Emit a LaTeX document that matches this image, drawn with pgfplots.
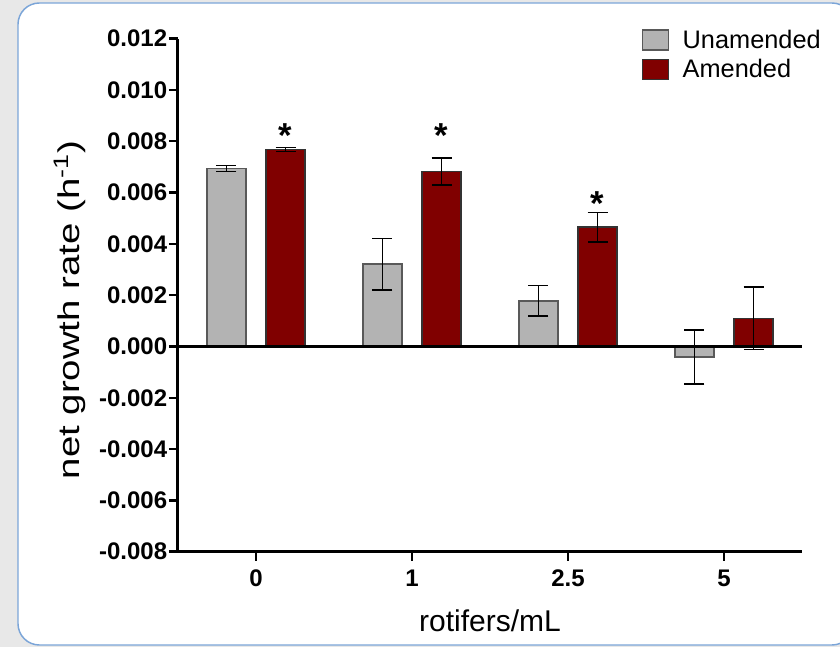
\documentclass[border=0pt]{standalone}
\usepackage{fontspec}
\setmainfont{Liberation Sans}
\usepackage{graphicx}
\usepackage{pgfplots}
\pgfplotsset{compat=1.18}
\definecolor{barred}{HTML}{800000}
\definecolor{bargray}{HTML}{B3B3B3}
\definecolor{panelblue}{HTML}{7BA5D8}
\definecolor{bggray}{HTML}{E8E8E8}
\begin{document}
\begin{tikzpicture}
\useasboundingbox (0pt,0pt) rectangle (630pt,485.25pt);
\fill[bggray] (0pt,0pt) rectangle (630pt,485.25pt);
\begin{scope}
\clip (0pt,0pt) rectangle (630pt,485.25pt);
\filldraw[fill=white, draw=panelblue, line width=1.1pt, rounded corners=16pt] (13.5pt,1.5pt) rectangle (640pt,483pt);
\end{scope}
\begin{axis}[
  at={(133.5pt,71.5pt)}, anchor=south west,
  scale only axis, width=468pt, height=384.75pt,
  xmin=-0.5, xmax=3.5, ymin=-0.008, ymax=0.012,
  axis x line=bottom, axis y line=left,
  axis line style={line width=2.25pt, -},
  xtick={0,1,2,3}, xticklabels={0,1,2.5,5},
  ytick={-0.008,-0.006,-0.004,-0.002,0,0.002,0.004,0.006,0.008,0.010,0.012},
  yticklabels={-0.008,-0.006,-0.004,-0.002,0.000,0.002,0.004,0.006,0.008,0.010,0.012},
  scaled y ticks=false,
  tick align=outside, major tick length=6.75pt,
  tick style={line width=1.8pt, black},
  ticklabel style={font=\fontsize{18}{20}\selectfont\bfseries},
  yticklabel style={inner sep=1.2pt},
  xticklabel style={inner sep=1.5pt, yshift=-5pt},
  clip=false,
  legend style={at={(0.743,1.023)}, anchor=north west, draw=none, fill=none,
    font=\fontsize{19}{21}\selectfont, inner sep=0pt, row sep=3pt,
    /tikz/every odd column/.append style={column sep=8pt}},
  legend cell align=left,
  legend image code/.code={\draw[#1] (0pt,-7.5pt) rectangle (19.5pt,7.5pt);},
  error bars/y dir=both, error bars/y explicit,
  error bars/error mark=-,
  error bars/error bar style={line width=1.1pt, black},
  error bars/error mark options={line width=1.1pt, black, mark size=7.5pt, rotate=90},
]
\addplot[ybar, bar width=29.25pt, bar shift=0pt, fill=bargray, draw=black!65, line width=1.1pt]
  coordinates {(-0.19,0.00694) +- (0,0.00012) (0.81,0.00321) +- (0,0.00100) (1.81,0.00178) +- (0,0.00060) (2.81,-0.00041) +- (0,0.00105)};
\addlegendentry{Unamended}
\addplot[ybar, bar width=29.25pt, bar shift=0pt, fill=barred, draw=black!80, line width=1.1pt]
  coordinates {(0.19,0.00768) +- (0,0.00007) (1.19,0.00682) +- (0,0.00053) (2.19,0.00465) +- (0,0.00058) (3.19,0.00110) +- (0,0.00122)};
\addlegendentry{Amended}
\draw[line width=2.25pt] (axis cs:-0.5,0) -- (axis cs:3.5,0);
\addplot[draw=none, mark=none, forget plot, error bars/y dir=none, nodes near coords={*},
  every node near coord/.style={anchor=base, inner sep=0pt, font=\fontsize{26}{28}\selectfont\bfseries, black}]
  coordinates {(0.19,0.00777) (1.19,0.00777) (2.19,0.00512)};
\end{axis}
\node[rotate=90, anchor=base, font=\fontsize{22.5}{24}\selectfont] at (59.25pt,252.75pt) {\scalebox{1.28}[1]{net growth rate (h\textsuperscript{-1})}};
\node[anchor=base, font=\fontsize{22.5}{24}\selectfont] at (367.5pt,11.5pt) {rotifers/mL};
\end{tikzpicture}
\end{document}
